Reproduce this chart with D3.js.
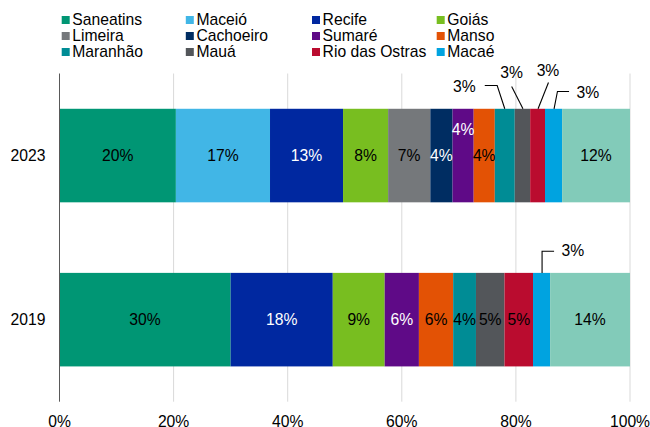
<!DOCTYPE html>
<html><head><meta charset="utf-8">
<script src="https://cdn.jsdelivr.net/npm/d3@7"></script>
<style>
html,body{margin:0;padding:0;background:#fff;}
text{font-family:"Liberation Sans",Arial,sans-serif;}
</style></head>
<body><svg id="chart" width="650" height="427"></svg>
<script>
// ---- data ----
const years = ["2023", "2019"];
const series = ["Saneatins","Maceió","Recife","Goiás","Limeira","Cachoeiro","Sumaré","Manso","Maranhão","Mauá","Rio das Ostras","Macaé","Outros"];
const legendSeries = ["Saneatins","Maceió","Recife","Goiás","Limeira","Cachoeiro","Sumaré","Manso","Maranhão","Mauá","Rio das Ostras","Macaé"];
const values2023 = [20.4, 16.5, 12.8, 7.9, 7.4, 3.9, 3.7, 3.7, 3.5, 2.7, 2.6, 3.0, 11.9];
const values2019 = [30.0, 0, 17.9, 9.1, 0, 0, 6.0, 6.0, 4.0, 5.0, 5.0, 3.0, 14.0];
const labels2023 = ["20%","17%","13%","8%","7%","4%","4%","4%","3%","3%","3%","3%","12%"];
const labels2019 = ["30%","","18%","9%","","","6%","6%","4%","5%","5%","3%","14%"];
const xTicks = [0, 20, 40, 60, 80, 100];
const xTickLabels = ["0%","20%","40%","60%","80%","100%"];

// ---- styles ----
const colors = {
  "Saneatins":"#009674","Maceió":"#41b6e6","Recife":"#0028a0","Goiás":"#78be20",
  "Limeira":"#75787b","Cachoeiro":"#002d62","Sumaré":"#5f0a87","Manso":"#e35205",
  "Maranhão":"#008c95","Mauá":"#53565a","Rio das Ostras":"#ba0c2f","Macaé":"#00a3e0",
  "Outros":"#82cbb9"
};
const whiteText = new Set(["Recife","Cachoeiro","Sumaré"]);
// label layout: inside labels with vertical shift, and callouts (offsets from segment centre / bar top)
const insideShift = {"2023|Sumaré": -26};
const callouts = {
  "2023|Maranhão": {t:[-40.5,-22.5], pts:[[-20,-23.3],[-7.6,-23.3],[0,0]]},
  "2023|Mauá": {t:[-10.8,-36], pts:[[-10.8,-22.3],[0.5,0]]},
  "2023|Rio das Ostras": {t:[10.4,-38], pts:[[10.9,-26.3],[0.5,0]]},
  "2023|Macaé": {t:[34.4,-16.5], pts:[[15.5,-17.3],[3.9,-17.3],[0.5,0]]},
  "2019|Macaé": {t:[31.3,-22], pts:[[12.5,-21.7],[0.5,-21.7],[0.5,0]]}
};

const data = {"2023": values2023, "2019": values2019};
const labs = {"2023": labels2023, "2019": labels2019};

const svg = d3.select("#chart");
const fs = 15.7;
const x = d3.scaleLinear().domain([0,100]).range([59.5, 630]);
const y = d3.scaleBand().domain(years).range([73.5, 401.7]).paddingInner(0.43).paddingOuter(0.215);

// gridlines
svg.append("g").selectAll("line").data(xTicks.slice(1)).join("line")
  .attr("x1", d=>x(d)).attr("x2", d=>x(d))
  .attr("y1", 73.5).attr("y2", 401.7)
  .attr("stroke", "#d9d9d9").attr("stroke-width", 1);

// bars
years.forEach(yr => {
  const vals = data[yr];
  let cum = 0;
  const segs = series.map((s,i) => { const seg = {s, v: vals[i], x0: cum, lab: labs[yr][i]}; cum += vals[i]; seg.x1 = cum; return seg; })
    .filter(d => d.v > 0);
  const g = svg.append("g");
  g.selectAll("rect").data(segs).join("rect")
    .attr("x", d=>x(d.x0)).attr("width", d=>x(d.x1)-x(d.x0))
    .attr("y", y(yr)).attr("height", y.bandwidth())
    .attr("fill", d=>colors[d.s]);
  segs.forEach(d => {
    const cx = (x(d.x0)+x(d.x1))/2;
    const key = yr+"|"+d.s;
    const top = y(yr);
    if (callouts[key]) {
      const c = callouts[key];
      g.append("polyline")
        .attr("points", c.pts.map(p => (cx+p[0])+","+(top+p[1])).join(" "))
        .attr("fill","none").attr("stroke","#000").attr("stroke-width",1.1);
      g.append("text").attr("x", cx+c.t[0]).attr("y", top+c.t[1])
        .attr("dy","0.35em").attr("text-anchor","middle")
        .attr("font-size", fs).attr("fill","#000").text(d.lab);
    } else {
      g.append("text").attr("x", cx).attr("y", top + y.bandwidth()/2 + (insideShift[key]||0))
        .attr("dy","0.35em").attr("text-anchor","middle")
        .attr("font-size", fs).attr("fill", whiteText.has(d.s) ? "#fff" : "#000").text(d.lab);
    }
  });
});

// y axis line
svg.append("line").attr("x1", x(0)).attr("x2", x(0)).attr("y1", 73.5).attr("y2", 401.7)
  .attr("stroke", "#595959").attr("stroke-width", 1);

// y tick labels
svg.append("g").selectAll("text").data(years).join("text")
  .attr("x", 45.5).attr("y", d => y(d)+y.bandwidth()/2)
  .attr("dy","0.35em").attr("text-anchor","end").attr("font-size", fs).attr("fill","#000")
  .text(d=>d);

// x tick labels
svg.append("g").selectAll("text").data(xTicks).join("text")
  .attr("x", d=>x(d)).attr("y", 421.5)
  .attr("dy","0.35em").attr("text-anchor","middle").attr("font-size", fs).attr("fill","#000")
  .text((d,i)=>xTickLabels[i]);

// legend
const legX = [61.7, 185.8, 312, 436.7];
const legY = [20, 36, 52];
const leg = svg.append("g");
legendSeries.forEach((s,i) => {
  const col = i % 4, row = Math.floor(i/4);
  leg.append("rect").attr("x", legX[col]).attr("y", legY[row]-4).attr("width", 8).attr("height", 8)
    .attr("fill", colors[s]);
  leg.append("text").attr("x", legX[col]+10.6).attr("y", legY[row])
    .attr("dy","0.35em").attr("font-size", fs).attr("fill","#000").text(s);
});
</script>
</body></html>
